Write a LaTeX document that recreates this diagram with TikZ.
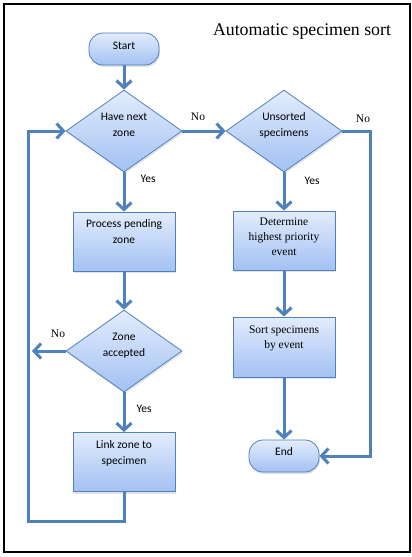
\documentclass[tikz,border=0pt]{standalone}
\usepackage{fontspec}
\setmainfont{Liberation Serif}
\newfontfamily\flowsans{Carlito}
\usetikzlibrary{arrows.meta,shapes.geometric,shadows}
\definecolor{flowline}{HTML}{4F81BD}
\definecolor{boxtop}{HTML}{E2ECFC}
\definecolor{boxbot}{HTML}{A3C1F3}
\begin{document}
\begin{tikzpicture}[x=1pt,y=1pt,
  shape base/.style={draw=flowline, line width=0.8pt, top color=boxtop, bottom color=boxbot,
    inner sep=0pt, drop shadow={opacity=0.22, shadow xshift=1pt, shadow yshift=-2pt}},
  procbox/.style={shape base, rectangle, minimum width=102pt, minimum height=59pt},
  termbox/.style={shape base, rectangle, rounded corners=14pt, minimum width=70pt, minimum height=32pt},
  decbox/.style={shape base, diamond, minimum width=116pt, minimum height=82pt},
  sanstext/.style={align=center, inner sep=0pt, font=\flowsans\fontsize{11.5}{16}\selectfont},
  seriftext/.style={align=center, inner sep=0pt, font=\fontsize{11.5}{15}\selectfont},
  flow/.style={draw=flowline, line width=3pt, line join=miter,
    -{Straight Barb[length=7pt,width=15pt,line cap=butt]}},
  branch/.style={inner sep=0pt}
]
% page and frame
\fill[white] (0,0) rectangle (412,-557);
\useasboundingbox (0,0) rectangle (412,-557);
\draw[line width=1.2pt] (4,-4) rectangle (410,-552);

% title
\node[anchor=base, inner sep=0pt, font=\fontsize{17.8}{20}\selectfont] (title) at (302,-35) {Automatic specimen sort};

% shapes
\node[termbox] (start) at (124,-49) {};
\node[decbox] (nextzone) at (124,-131) {};
\node[decbox] (unsorted) at (284,-131) {};
\node[procbox] (process) at (124,-241.5) {};
\node[decbox] (accepted) at (124,-351) {};
\node[procbox] (link) at (124,-462) {};
\node[procbox, minimum height=59pt] (priority) at (284,-240.5) {};
\node[procbox, minimum height=60pt] (sortev) at (284,-347) {};
\node[termbox] (finish) at (284,-456) {};

% texts inside the shapes
\node[sanstext] (startT) at (124,-46) {Start};
\node[sanstext] (nextzoneT) at (124,-125) {Have next\\zone};
\node[sanstext] (unsortedT) at (284,-125) {Unsorted\\specimens};
\node[sanstext] (processT) at (124,-232) {Process pending\\zone};
\node[sanstext] (acceptedT) at (124,-345.5) {Zone\\accepted};
\node[sanstext] (linkT) at (124,-453.5) {Link zone to\\specimen};
\node[seriftext] (priorityT) at (284,-237) {Determine\\highest priority\\event};
\node[seriftext] (sortevT) at (284,-338.5) {Sort specimens\\by event};
\node[sanstext] (finishT) at (284,-452) {End};

% corner points of the return lines
\coordinate (loopcorner) at (28,-521);
\coordinate (rightrail) at (370,-300);
\coordinate (rejectend) at (32,-351);

% connectors
\draw[flow] (start.south) -- (nextzone.north);
\draw[flow] (nextzone.east) -- (unsorted.west);
\draw[flow] (nextzone.south) -- (process.north);
\draw[flow] (process.south) -- (accepted.north);
\draw[flow] (accepted.west) -- (rejectend);
\draw[flow] (accepted.south) -- (link.north);
\draw[flow] (link.south) |- (loopcorner) |- (nextzone.west);
\draw[flow] (unsorted.south) -- (priority.north);
\draw[flow] (priority.south) -- (sortev.north);
\draw[flow] (sortev.south) -- (finish.north);
\draw[flow] (unsorted.east) -| (rightrail) |- (finish.east);

% branch labels
\node[branch, font=\fontsize{11.5}{14}\selectfont] (noA) at (198,-117) {No};
\node[branch, font=\fontsize{11.5}{14}\selectfont] (noB) at (363,-119) {No};
\node[branch, font=\fontsize{11.5}{14}\selectfont] (noC) at (58,-334) {No};
\node[branch, font=\flowsans\fontsize{11.5}{14}\selectfont] (yesA) at (148,-179) {Yes};
\node[branch, font=\flowsans\fontsize{11.5}{14}\selectfont] (yesB) at (312,-181) {Yes};
\node[branch, font=\flowsans\fontsize{11.5}{14}\selectfont] (yesC) at (144,-409) {Yes};
\end{tikzpicture}
\end{document}
